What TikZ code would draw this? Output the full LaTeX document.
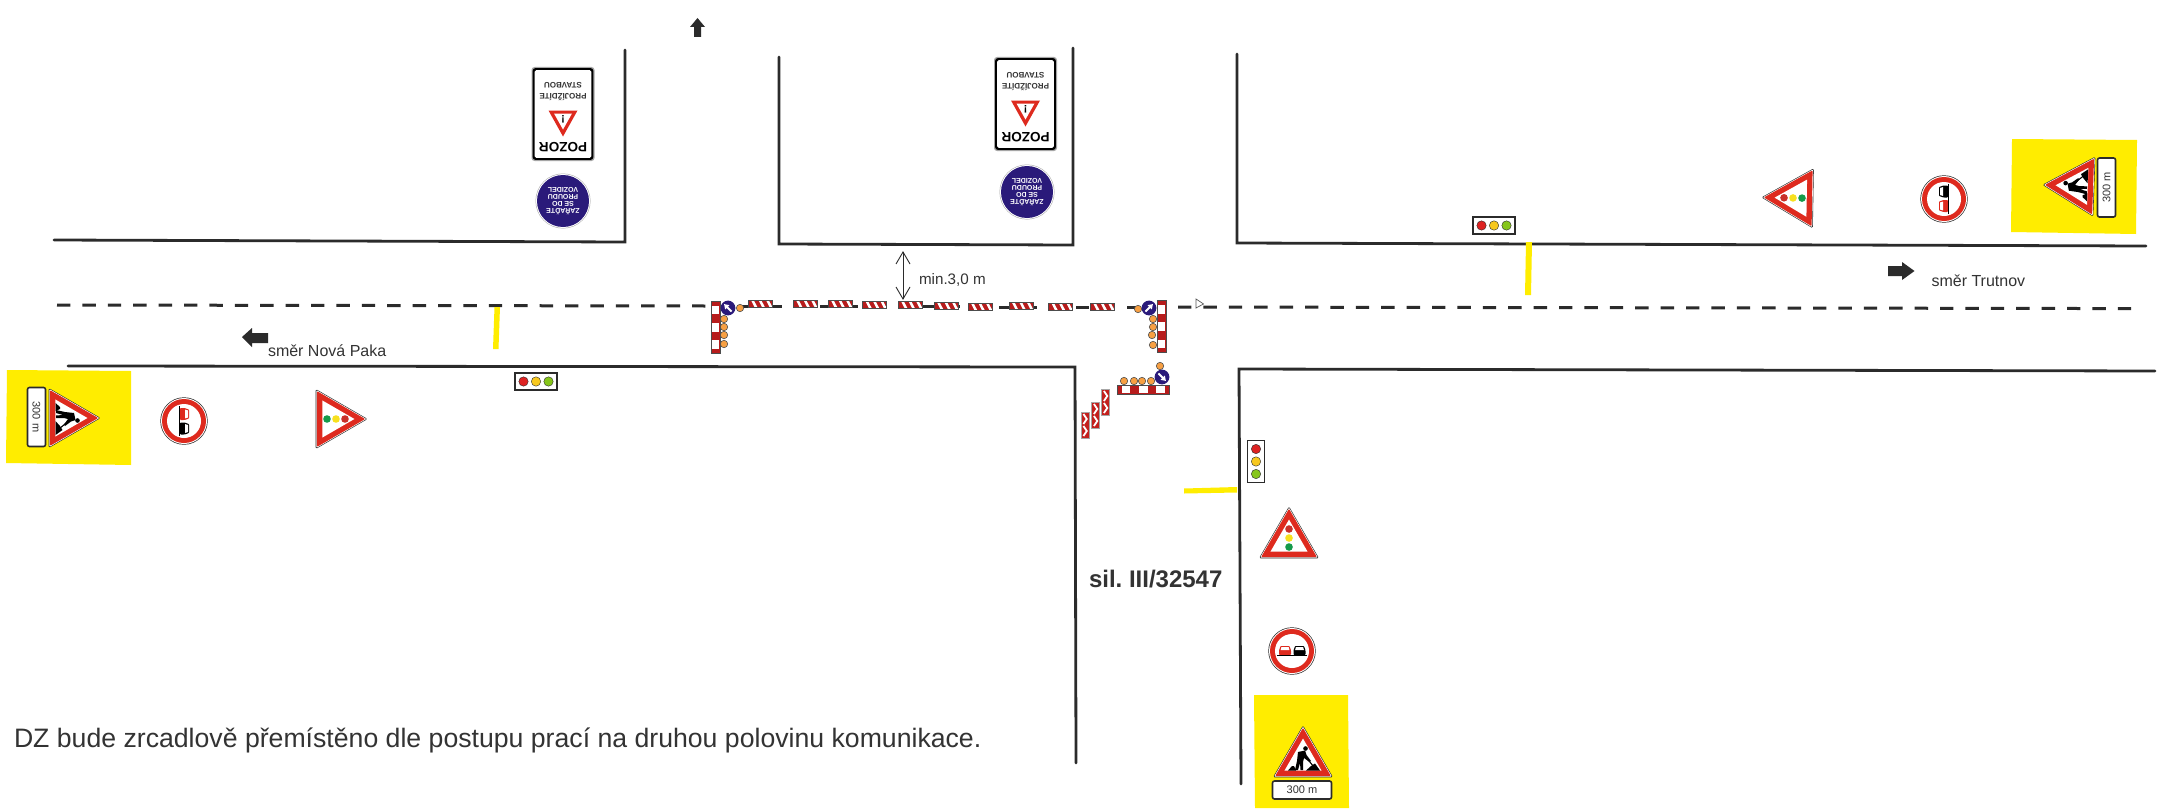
\documentclass[tikz,border=0pt]{standalone}
\usepackage{fontspec}
\setmainfont{Liberation Sans}
\newcommand\pxfont[1]{\fontsize{#1}{#1}\selectfont}
\definecolor{ink}{HTML}{2B2B2B}
\definecolor{txt}{HTML}{333333}
\definecolor{signred}{HTML}{DE2A1E}
\definecolor{barred}{HTML}{B71C1C}
\definecolor{blocky}{HTML}{FFED00}
\definecolor{navy}{HTML}{2A1A7A}
\definecolor{cone}{HTML}{F7A043}
\definecolor{tlred}{HTML}{DD2222}
\definecolor{tlyel}{HTML}{F7C81E}
\definecolor{tlgrn}{HTML}{86C61A}
\definecolor{sgred}{HTML}{C9302A}
\definecolor{sgyel}{HTML}{F7E01E}
\definecolor{sggrn}{HTML}{159A4A}
\newcommand\tripath{(0,-34.6) -- (-30,17.3) -- (30,17.3) -- cycle}
\newcommand\warnbase{%
  \path[fill=ink,rounded corners=1.5pt] \tripath;
  \path[fill=white,scale=.965,rounded corners=1pt] \tripath;
  \path[fill=signred,scale=.93,rounded corners=1pt] \tripath;
  \path[fill=white,scale=.62] \tripath;
}
\newcommand\carshape[2]{%
  \fill[#2,rounded corners=.8pt] (#1-6,-.5) -- (#1-4.5,-5) -- (#1+4.5,-5) -- (#1+6,-.5) -- (#1+6,4) -- (#1-6,4) -- cycle;
  \fill[white] (#1-3.6,-4) -- (#1+3.6,-4) -- (#1+4.4,-1) -- (#1-4.4,-1) -- cycle;
}
\tikzset{
  x=1pt,y=-1pt,
  road/.style={draw=ink,line width=2.8pt,line cap=round},
  centre/.style={draw=ink,line width=3pt,dash pattern=on 13.4pt off 12pt},
  centrepiece/.style={draw=ink,line width=3pt},
  plain/.style={inner sep=0pt,outer sep=0pt,text=txt},
  pics/lightstri/.style={code={
    \warnbase
    \fill[sgred] (0,-12) circle (3.8);
    \fill[sgyel] (0,-3) circle (3.8);
    \fill[sggrn] (0,6) circle (3.8);
  }},
  pics/workertri/.style={code={
    \warnbase
    \fill[black] (2.5,-11.5) circle (2.3);
    \fill[black] (-5,-8) -- (2,-9.5) -- (3.5,-5) -- (8,1) -- (6.5,2) -- (1,-2) -- (0,2) -- (0,10) -- (-2.5,10) -- (-3,3) -- (-5,10) -- (-8,10) -- (-6,1) -- cycle;
    \draw[black,line width=1.1pt] (1,-5) -- (11,7);
    \fill[black] (-15,10.5) -- (-11,6) -- (-9,6) -- (-7,10.5) -- cycle;
    \fill[black] (3,10.5) -- (8,6) -- (12,3.5) -- (17,10.5) -- cycle;
  }},
  pics/plate/.style={code={
    \path[fill=white,draw=ink,line width=1.6pt,rounded corners=2pt] (-29.5,-9) rectangle (29.5,9);
    \node[plain,transform shape,font=\pxfont{11}] (-t) at (0,0) {300 m};
  }},
  pics/noover/.style={code={
    \fill[ink] (0,0) circle (23.7);
    \fill[white] (0,0) circle (23);
    \fill[signred] (0,0) circle (22);
    \fill[white] (0,0) circle (17);
    \carshape{-7}{signred}
    \carshape{7.5}{black}
    \draw[black,line width=.9pt] (-15,4.6) -- (15,4.6);
  }},
  pics/pozorsign/.style={code={
    \path[fill=gray!70,rounded corners=3pt] (-31.5,-47) rectangle (31.5,47);
    \path[fill=black,rounded corners=2.5pt] (-30.3,-45.8) rectangle (30.3,45.8);
    \path[fill=white,rounded corners=1.5pt] (-28.3,-43.8) rectangle (28.3,43.8);
    \fill[signred] (-14.5,-3.5) -- (14.5,-3.5) -- (0,22.5) -- cycle;
    \fill[white] (-9,-.5) -- (9,-.5) -- (0,15.5) -- cycle;
    \node[plain,rotate=180,text=black,font=\bfseries\pxfont{13.5}] (-a) at (0,33) {POZOR};
    \node[plain,rotate=180,text=black,font=\bfseries\pxfont{11}] (-b) at (0,5) {!};
    \node[plain,rotate=180,text=txt,font=\bfseries\pxfont{8}] (-c) at (0,-17) {PROJÍŽDÍTE};
    \node[plain,rotate=180,text=txt,font=\bfseries\pxfont{8}] (-d) at (0,-29) {STAVBOU};
  }},
  pics/zaradte/.style={code={
    \fill[gray!70] (0,0) circle (27.5);
    \fill[white] (0,0) circle (27);
    \fill[navy] (0,0) circle (26);
    \node[plain,rotate=180,text=white,align=center,font=\bfseries\pxfont{7}] (-t) at (0,0)
      {\baselineskip=9pt ZAŘAĎTE\\SE DO\\PROUDU\\VOZIDEL};
  }},
  pics/bluedisc/.style={code={
    \fill[navy] (0,0) circle (7.4);
    \fill[white] (-1,5) -- (1,5) -- (1,-1) -- (3,-1) -- (0,-5.5) -- (-3,-1) -- (-1,-1) -- cycle;
  }},
  pics/blockbar/.style={code={
    \fill[barred] (-4.5,-26) rectangle (4.5,26);
    \foreach \a in {-21.5,-4.2,13.1} {\fill[white] (-3.6,\a) rectangle (3.6,\a+8.7);}
    \draw[gray!60!black,line width=.7pt] (-4.5,-26) rectangle (4.5,26);
  }},
  pics/stripebar/.style={code={
    \fill[barred] (-12,-3.5) rectangle (12,3.5);
    \begin{scope}
      \clip (-12,-3.5) rectangle (12,3.5);
      \foreach \a in {-5,2.5,10} {\fill[white] (\a-4,-3.5) -- (\a-1.2,-3.5) -- (\a+2.4,3.5) -- (\a-.4,3.5) -- cycle;}
    \end{scope}
    \draw[gray!60!black,line width=.8pt] (-12,-3.5) rectangle (12,3.5);
  }},
  pics/chevron/.style={code={
    \fill[barred!70!signred] (-4,-13) rectangle (4,13);
    \foreach \a in {-6,6} {\draw[white,line width=1.8pt] (-1.6,\a-5) -- (1.8,\a) -- (-1.6,\a+5);}
    \draw[gray!70,line width=.7pt] (-4,-13) rectangle (4,13);
  }},
  pics/lightshoriz/.style={code={
    \path[fill=white,draw=ink,line width=1.8pt] (-21,-8.5) rectangle (21,8.5);
    \fill[tlred,draw=ink,line width=.4pt] (-12.5,0) circle (4.7);
    \fill[tlyel,draw=ink,line width=.4pt] (0,0) circle (4.7);
    \fill[tlgrn,draw=ink,line width=.4pt] (12.5,0) circle (4.7);
  }},
  conedot/.style={fill=cone,draw=gray!60!black,line width=.6pt},
  yellowbar/.style={fill=blocky},
  blockarrow/.style={fill=ink}
}
\begin{document}
\begin{tikzpicture}
\useasboundingbox (0,0) rectangle (2159,808);
\fill[white] (0,0) rectangle (2159,808);
% yellow backgrounds
\fill[blocky] (2012,139) -- (2137,140) -- (2136,234) -- (2011,232) -- cycle;
\fill[blocky] (7,370) -- (131,371) -- (131,465) -- (6,463) -- cycle;
\fill[blocky] (1254,695) -- (1348,695) -- (1349,808) -- (1255,808) -- cycle;
% road edges
\draw[road] (54,240) -- (625,242) -- (625,50);
\draw[road] (779,57) -- (779,244) -- (1073,245) -- (1073,48);
\draw[road] (1237,54) -- (1237,243) -- (2146,246);
\draw[road] (68,366) -- (1075,367) -- (1076,763);
\draw[road] (1241,784) -- (1239,369) -- (2155,371);
% centre line
\draw[centre] (57,305) -- (706,306);
\draw[centre] (1178,307) -- (2139,308.6);
\draw[centrepiece] (743,306) -- (782,306);
\draw[centrepiece] (820,306) -- (858,306);
\draw[centrepiece] (898,306.5) -- (960,306.5);
\draw[centrepiece] (999,307) -- (1037,307);
\draw[centrepiece] (1076,307) -- (1089,307);
\draw[centrepiece] (1091,307) -- (1114,307);
\draw[centrepiece] (1127,307) -- (1139,307);
\path[fill=white,draw=gray!70!black,line width=.7pt] (1196,299) -- (1203.5,304) -- (1196,308) -- cycle;
% striped barriers
\pic (s1) at (760,303.7) {stripebar};
\pic (s2) at (805,303.7) {stripebar};
\pic (s3) at (840,304) {stripebar};
\pic (s4) at (874.5,305) {stripebar};
\pic (s5) at (910,304.7) {stripebar};
\pic (s6) at (946,306) {stripebar};
\pic (s7) at (980,307) {stripebar};
\pic (s8) at (1021,306.3) {stripebar};
\pic (s9) at (1060.5,307) {stripebar};
\pic (s10) at (1102,306.5) {stripebar};
% closure, left
\pic (bl) at (715.5,327) {blockbar};
\foreach \px/\py in {724/319,724/327,724/335,724/344,740/308} {\path[conedot] (\px,\py) circle (3.7);}
\pic[rotate=45] (dl) at (728,308) {bluedisc};
% closure, right
\pic (br) at (1161.5,326.5) {blockbar};
\foreach \px/\py in {1153/319,1153/327,1152/335,1153/345,1138/309} {\path[conedot] (\px,\py) circle (3.7);}
\pic[rotate=-45] (dr) at (1149,308) {bluedisc};
% closure, side road
\pic[rotate=90] (bs) at (1143,389.5) {blockbar};
\foreach \px/\py in {1124/381,1134/381,1142/381,1151/381,1160/366} {\path[conedot] (\px,\py) circle (3.7);}
\pic[rotate=-135] (ds) at (1162,377) {bluedisc};
\pic (c1) at (1085,425) {chevron};
\pic (c2) at (1095.5,415) {chevron};
\pic (c3) at (1105.5,402) {chevron};
% clearance dimension
\coordinate (dimtop) at (903,252);
\coordinate (dimbot) at (903,299);
\draw[ink,line width=.9pt] (896,264) -- (dimtop) -- (910,264);
\draw[ink,line width=.9pt] (896,287) -- (dimbot) -- (910,287);
\draw[ink,line width=.9pt] (dimtop) -- (dimbot);
\node[plain,anchor=west,font=\pxfont{15.2}] (dimtext) at (919,280) {min.3,0 m};
% yellow stop bars
\fill[yellowbar] (494.5,307) -- (500,307) -- (498.5,349) -- (493,349) -- cycle;
\fill[yellowbar] (1526,242) -- (1532,242) -- (1531,295) -- (1525,295) -- cycle;
\fill[yellowbar] (1184,488.5) -- (1237,487) -- (1237,492.5) -- (1184,493.5) -- cycle;
% signal heads
\pic (tl1) at (536,381.5) {lightshoriz};
\pic (tl2) at (1494,225.5) {lightshoriz};
\pic[rotate=-90] (tl3) at (1256,461.5) {lightshoriz};
% direction arrows
\fill[blockarrow] (242,337) -- (252,328) -- (252,333) -- (268,333) -- (268,343) -- (252,343) -- (252,347) -- cycle;
\fill[blockarrow] (1914.5,271) -- (1902,262) -- (1902,266) -- (1888,266) -- (1888,276) -- (1902,276) -- (1902,280) -- cycle;
\fill[blockarrow] (697.5,18) -- (705,27) -- (701,27) -- (701,37) -- (694,37) -- (694,27) -- (690,27) -- cycle;
\node[plain,anchor=west,font=\pxfont{16}] (nova) at (268,351) {směr Nová Paka};
\node[plain,anchor=west,font=\pxfont{16}] (trutnov) at (1931.5,281) {směr Trutnov};
% signs along the main road
\pic[rotate=89] (w1) at (1796,198) {lightstri};
\pic[rotate=90] (n1) at (1944,199) {noover};
\pic[rotate=88] (g1) at (2077,186) {workertri};
\pic[rotate=90] (p1) at (2106.5,187.5) {plate};
\pic[rotate=-90] (w2) at (333,419) {lightstri};
\pic[rotate=-90] (n2) at (184,421) {noover};
\pic[rotate=-90] (g2) at (66,418) {workertri};
\pic[rotate=-90] (p2) at (36.5,417) {plate};
% signs on the side road
\pic (w3) at (1289,541) {lightstri};
\pic (n3) at (1292,651) {noover};
\pic (g3) at (1303,760) {workertri};
\pic (p3) at (1302,790) {plate};
% upside-down signs
\pic (z1) at (563,114) {pozorsign};
\pic (r1) at (563,201) {zaradte};
\pic (z2) at (1025.5,104) {pozorsign};
\pic (r2) at (1027,192) {zaradte};
% notes
\node[plain,anchor=west,font=\bfseries\pxfont{24}] (road) at (1089,579) {sil.~III/32547};
\node[plain,anchor=west,font=\pxfont{26.65}] (note) at (14,740) {DZ bude zrcadlově přemístěno dle postupu prací na druhou polovinu komunikace.};
\end{tikzpicture}
\end{document}
